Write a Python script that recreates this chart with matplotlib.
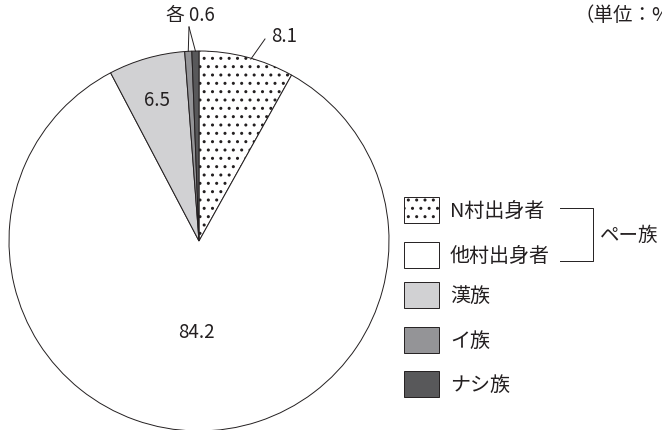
import matplotlib
matplotlib.use("Agg")
import matplotlib.pyplot as plt
from matplotlib.patches import Rectangle
import numpy as np

plt.rcParams['font.family'] = ['Noto Sans CJK JP', 'DejaVu Sans']
plt.rcParams['hatch.linewidth'] = 1.0

# --- data ---
groups = ["N村出身者", "他村出身者", "漢族", "イ族", "ナシ族"]
shares = [8.1, 84.2, 6.5, 0.6, 0.6]
fills = ["white", "white", "#d1d1d3", "#949497", "#58585a"]
hatches = ["..", None, None, None, None]
group_label = "ペー族"
unit_label = "（単位：%）"

W, H = 662, 431
TXT = "#231f20"


def py(y):
    # pixel row (from top) -> data y
    return H - y


fig = plt.figure(figsize=(W / 100, H / 100), dpi=100)
ax = fig.add_axes([0, 0, 1, 1])

cx, cy, r = 199, py(242), 190
wedges, _ = ax.pie(shares, colors=fills, startangle=90, counterclock=False,
                   center=(cx, cy), radius=r, frame=True,
                   wedgeprops=dict(edgecolor=TXT, linewidth=0.7))
for w, h in zip(wedges, hatches):
    if h:
        w.set_hatch(h)

ax.set_xlim(0, W)
ax.set_ylim(0, H)
ax.set_aspect('equal')
ax.axis('off')


def mid_point(i, rr):
    w = wedges[i]
    a = np.deg2rad((w.theta1 + w.theta2) / 2)
    return cx + rr * np.cos(a), cy + rr * np.sin(a)


# value labels inside
ax.text(157, py(101), f"{shares[2]}", ha='center', va='center', fontsize=13.5, color=TXT)
ax.text(196, py(333), f"{shares[1]}", ha='center', va='center', fontsize=13.5, color=TXT)

# 8.1 leader
x0, y0 = mid_point(0, r)
ax.plot([x0 + 4, 265], [y0 - 2, py(40)], color=TXT, lw=0.7)
ax.text(271, py(36), f"{shares[0]}", ha='left', va='center', fontsize=13.5, color=TXT)

# 各 0.6 leaders
apex = (189, py(28))
for i in (3, 4):
    xe, ye = mid_point(i, r)
    ax.plot([apex[0], xe], [apex[1], ye], color=TXT, lw=0.7)
ax.text(190, py(15), f"各 {shares[3]}", ha='center', va='center', fontsize=13.5, color=TXT)

# unit note (cut at right edge as in source)
ax.text(574, py(15), unit_label, ha='left', va='center', fontsize=14, color=TXT)

# legend
rows = [211, 256, 296, 341, 385]
for name, fc, h, yy in zip(groups, fills, hatches, rows):
    ax.add_patch(Rectangle((404, py(yy) - 13), 35, 26, facecolor=fc,
                           edgecolor=TXT, linewidth=0.7, hatch=h))
    ax.text(450, py(yy), name, ha='left', va='center', fontsize=14.4, color=TXT)

# bracket for the first two groups
ax.plot([560, 593, 593, 560], [py(209), py(209), py(262), py(262)], color=TXT, lw=0.7)
ax.text(600, py(235), group_label, ha='left', va='center', fontsize=14, color=TXT)

fig.savefig("out.png", dpi=100)
